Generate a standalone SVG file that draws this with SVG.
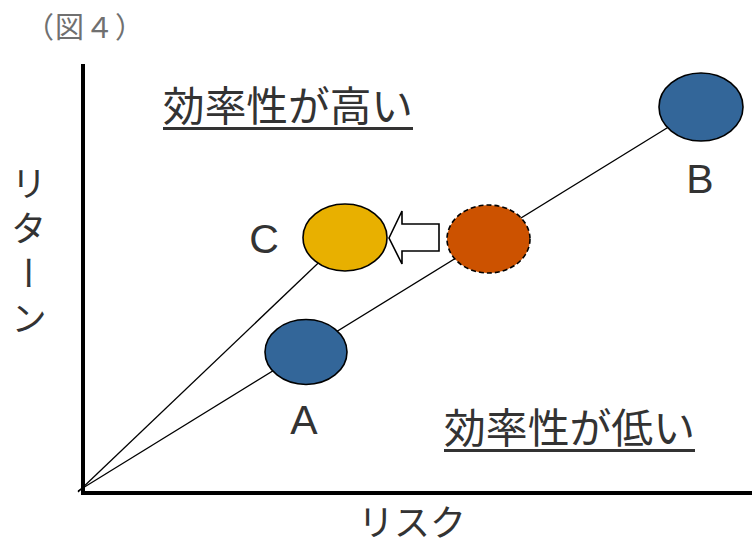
<svg xmlns="http://www.w3.org/2000/svg" width="752" height="544" viewBox="0 0 752 544">
<style>
.jp{font-family:"Noto Sans CJK JP","Liberation Sans",sans-serif;fill:#333}
.lat{font-family:"Liberation Sans",Arial,sans-serif;fill:#333;font-size:41px;text-anchor:middle}
.node{stroke:#000;stroke-width:1.6}
.conn{stroke:#000;stroke-width:1.3;fill:none}
.axis{stroke:#000;stroke-width:4;fill:none}
</style>
<rect width="752" height="544" fill="#fff"/>
<text class="jp" x="25" y="38" font-size="29" letter-spacing="1" style="fill:#707070">（図４）</text>
<g id="axes">
<path class="axis" d="M83,64 V493 M81,493 H752"/>
</g>
<g id="connectors">
<line class="conn" x1="78" y1="491" x2="701" y2="107"/>
<line class="conn" x1="78" y1="492" x2="345" y2="237.5"/>
</g>
<g id="node-A">
<ellipse class="node" cx="306" cy="352" rx="41" ry="32.5" fill="#336699"/>
<text class="lat" x="304" y="434">A</text>
</g>
<g id="node-B">
<ellipse class="node" cx="701" cy="107" rx="42" ry="34" fill="#336699"/>
<text class="lat" x="700" y="193">B</text>
</g>
<g id="node-C">
<ellipse class="node" cx="345" cy="237.5" rx="42" ry="33.5" fill="#E8B000"/>
<text class="lat" x="264" y="253">C</text>
</g>
<g id="node-moving">
<ellipse class="node" cx="488.5" cy="239" rx="41.5" ry="34" fill="#CC5200" stroke-dasharray="5,3"/>
</g>
<g id="arrow">
<polygon class="node" points="389,238 402,211 402,224 439,224 439,251 402,251 402,264" fill="#fff"/>
</g>
<g id="labels">
<text class="jp" x="163" y="121" font-size="41" textLength="250" lengthAdjust="spacingAndGlyphs">効率性が高い</text>
<rect x="163" y="127" width="250" height="3" fill="#333"/>
<text class="jp" x="444" y="443" font-size="41" textLength="251" lengthAdjust="spacingAndGlyphs">効率性が低い</text>
<rect x="444" y="449" width="251" height="3" fill="#333"/>
<text class="jp" x="412" y="536" font-size="36" text-anchor="middle">リスク</text>
<text class="jp" x="29" y="165" font-size="36" writing-mode="vertical-rl" letter-spacing="9">リターン</text>
</g>
</svg>
